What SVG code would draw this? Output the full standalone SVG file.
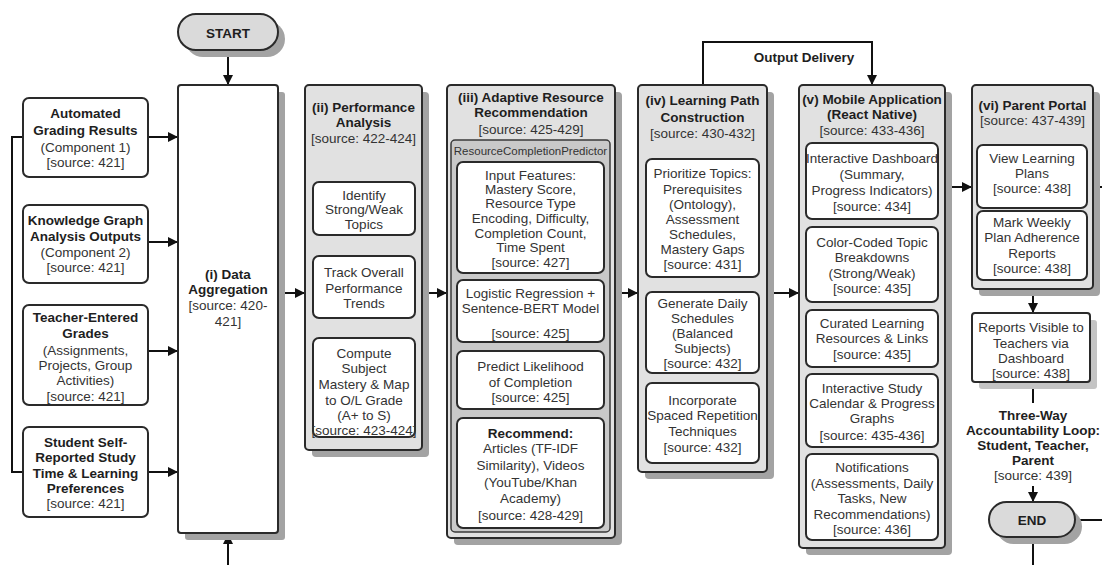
<svg xmlns="http://www.w3.org/2000/svg" width="1102" height="565" viewBox="0 0 1102 565">
<defs>
<marker id="ah" viewBox="0 0 10 10" refX="10" refY="5" markerWidth="10" markerHeight="10" markerUnits="userSpaceOnUse" orient="auto">
<path d="M0,0 L10,5 L0,10 z" fill="#111"/>
</marker>
<style>
.bg{fill:#ffffff}
.box{fill:#ffffff;stroke:#2a2a2a;stroke-width:2}
.cont{fill:#e1e1e1;stroke:#2a2a2a;stroke-width:2}
.pred{fill:#c9c9c9;stroke:#3a3a3a;stroke-width:1.5}
.sh{fill:#a3a3a3}
.shl{fill:#c4c4c4}
.term{fill:#dadada;stroke:#2a2a2a;stroke-width:2}
text{font-family:"Liberation Sans",Arial,sans-serif;text-anchor:middle}
.b{font-size:13.5px;font-weight:bold;fill:#1e1e1e}
.t{font-size:13.5px;fill:#333}
.p{font-size:11.5px;fill:#333}
.c{fill:none;stroke:#111;stroke-width:2}
.ca{fill:none;stroke:#111;stroke-width:2;marker-end:url(#ah)}
</style>
</defs>
<rect class="bg" x="0" y="0" width="1102" height="565"/>

<g id="connectors">
<path class="c" d="M23,137 H12 V472 H23"/>
<path class="ca" d="M148,137 H178"/>
<path class="ca" d="M148,242 H178"/>
<path class="ca" d="M148,351 H178"/>
<path class="ca" d="M148,472 H178"/>
<path class="ca" d="M228,50 V85"/>
<path class="ca" d="M228,565 V534"/>
<path class="ca" d="M278,293 H305"/>
<path class="ca" d="M422,293 H447"/>
<path class="ca" d="M615,293 H638"/>
<path class="ca" d="M767,293 H799"/>
<path class="ca" d="M703,85 V42 H872 V85"/>
<text class="b" x="804" y="62">Output Delivery</text>
<path class="ca" d="M945,187 H972"/>
<path class="c" d="M1093,187 H1102"/>
<path class="ca" d="M1033,289 V313"/>
<path class="c" d="M1033,382 V403"/>
<path class="ca" d="M1033,486 V502"/>
<path class="c" d="M1075,520 H1102"/>
<path class="c" d="M1033,537 V565"/>
</g>

<g id="start">
<rect class="sh" x="185" y="21" width="100" height="36" rx="18"/>
<rect class="term" x="178" y="14" width="100" height="36" rx="18"/>
<text class="b" x="228" y="38">START</text>
</g>

<g id="in1">
<rect class="box" x="23" y="98" width="125" height="79" rx="6"/>
<text class="b" x="85.5" y="118">Automated</text>
<text class="b" x="85.5" y="135">Grading Results</text>
<text class="t" x="85.5" y="152">(Component 1)</text>
<text class="t" x="85.5" y="167">[source: 421]</text>
</g>
<g id="in2">
<rect class="box" x="23" y="205" width="125" height="78" rx="6"/>
<text class="b" x="85.5" y="225">Knowledge Graph</text>
<text class="b" x="85.5" y="241">Analysis Outputs</text>
<text class="t" x="85.5" y="257">(Component 2)</text>
<text class="t" x="85.5" y="272">[source: 421]</text>
</g>
<g id="in3">
<rect class="box" x="23" y="305" width="125" height="100" rx="6"/>
<text class="b" x="85.5" y="322">Teacher-Entered</text>
<text class="b" x="85.5" y="338">Grades</text>
<text class="t" x="85.5" y="355">(Assignments,</text>
<text class="t" x="85.5" y="370">Projects, Group</text>
<text class="t" x="85.5" y="385">Activities)</text>
<text class="t" x="85.5" y="401">[source: 421]</text>
</g>
<g id="in4">
<rect class="box" x="23" y="427" width="125" height="90" rx="6"/>
<text class="b" x="85.5" y="447">Student Self-</text>
<text class="b" x="85.5" y="462">Reported Study</text>
<text class="b" x="85.5" y="478">Time &amp; Learning</text>
<text class="b" x="85.5" y="493">Preferences</text>
<text class="t" x="85.5" y="508">[source: 421]</text>
</g>

<g id="aggregation">
<rect class="sh" x="185" y="92" width="100" height="448" rx="3"/>
<rect class="box" x="178" y="85" width="100" height="448" rx="3"/>
<text class="b" x="228" y="279">(i) Data</text>
<text class="b" x="228" y="294">Aggregation</text>
<text class="t" x="228" y="310">[source: 420-</text>
<text class="t" x="228" y="326">421]</text>
</g>

<g id="performance">
<rect class="sh" x="312" y="92" width="117" height="365" rx="4"/>
<rect class="cont" x="305" y="85" width="117" height="365" rx="4"/>
<text class="b" x="363.5" y="112">(ii) Performance</text>
<text class="b" x="363.5" y="127">Analysis</text>
<text class="t" x="363.5" y="143">[source: 422-424]</text>
<g id="perf1">
<rect class="box" x="313" y="182" width="102" height="53" rx="6"/>
<text class="t" x="364" y="200">Identify</text>
<text class="t" x="364" y="214">Strong/Weak</text>
<text class="t" x="364" y="229">Topics</text>
</g>
<g id="perf2">
<rect class="box" x="313" y="256" width="102" height="62" rx="6"/>
<text class="t" x="364" y="277">Track Overall</text>
<text class="t" x="364" y="293">Performance</text>
<text class="t" x="364" y="308">Trends</text>
</g>
<g id="perf3">
<rect class="box" x="313" y="338" width="102" height="99" rx="6"/>
<text class="t" x="364" y="358">Compute</text>
<text class="t" x="364" y="373">Subject</text>
<text class="t" x="364" y="389">Mastery &amp; Map</text>
<text class="t" x="364" y="405">to O/L Grade</text>
<text class="t" x="364" y="420">(A+ to S)</text>
<text class="t" x="364" y="435">[source: 423-424]</text>
</g>
</g>

<g id="adaptive">
<rect class="sh" x="454" y="92" width="168" height="453" rx="4"/>
<rect class="cont" x="447" y="85" width="168" height="453" rx="4"/>
<text class="b" x="531" y="102">(iii) Adaptive Resource</text>
<text class="b" x="531" y="117">Recommendation</text>
<text class="t" x="531" y="134">[source: 425-429]</text>
<g id="predictor">
<rect class="pred" x="451" y="140" width="159" height="392" rx="4"/>
<text class="p" x="530.5" y="155">ResourceCompletionPredictor</text>
</g>
<g id="ad1">
<rect class="box" x="457" y="162" width="147" height="111" rx="6"/>
<text class="t" x="530.5" y="180">Input Features:</text>
<text class="t" x="530.5" y="194">Mastery Score,</text>
<text class="t" x="530.5" y="208">Resource Type</text>
<text class="t" x="530.5" y="223">Encoding, Difficulty,</text>
<text class="t" x="530.5" y="238">Completion Count,</text>
<text class="t" x="530.5" y="252">Time Spent</text>
<text class="t" x="530.5" y="267">[source: 427]</text>
</g>
<g id="ad2">
<rect class="box" x="457" y="280" width="147" height="62" rx="6"/>
<text class="t" x="530.5" y="298">Logistic Regression +</text>
<text class="t" x="530.5" y="313">Sentence-BERT Model</text>
<text class="t" x="530.5" y="338">[source: 425]</text>
</g>
<g id="ad3">
<rect class="box" x="457" y="351" width="147" height="58" rx="6"/>
<text class="t" x="530.5" y="371">Predict Likelihood</text>
<text class="t" x="530.5" y="387">of Completion</text>
<text class="t" x="530.5" y="402">[source: 425]</text>
</g>
<g id="ad4">
<rect class="box" x="457" y="418" width="147" height="110" rx="6"/>
<text class="b" x="530.5" y="438">Recommend:</text>
<text class="t" x="530.5" y="453">Articles (TF-IDF</text>
<text class="t" x="530.5" y="470">Similarity), Videos</text>
<text class="t" x="530.5" y="487">(YouTube/Khan</text>
<text class="t" x="530.5" y="503">Academy)</text>
<text class="t" x="530.5" y="520">[source: 428-429]</text>
</g>
</g>

<g id="learning">
<rect class="sh" x="645" y="92" width="129" height="387" rx="4"/>
<rect class="cont" x="638" y="85" width="129" height="387" rx="4"/>
<text class="b" x="702.5" y="105">(iv) Learning Path</text>
<text class="b" x="702.5" y="122">Construction</text>
<text class="t" x="702.5" y="138">[source: 430-432]</text>
<g id="lp1">
<rect class="box" x="646" y="159" width="113" height="118" rx="6"/>
<text class="t" x="702.5" y="178">Prioritize Topics:</text>
<text class="t" x="702.5" y="194">Prerequisites</text>
<text class="t" x="702.5" y="209">(Ontology),</text>
<text class="t" x="702.5" y="224">Assessment</text>
<text class="t" x="702.5" y="239">Schedules,</text>
<text class="t" x="702.5" y="254">Mastery Gaps</text>
<text class="t" x="702.5" y="269">[source: 431]</text>
</g>
<g id="lp2">
<rect class="box" x="646" y="292" width="113" height="81" rx="6"/>
<text class="t" x="702.5" y="308">Generate Daily</text>
<text class="t" x="702.5" y="323">Schedules</text>
<text class="t" x="702.5" y="338">(Balanced</text>
<text class="t" x="702.5" y="353">Subjects)</text>
<text class="t" x="702.5" y="368">[source: 432]</text>
</g>
<g id="lp3">
<rect class="box" x="646" y="383" width="113" height="80" rx="6"/>
<text class="t" x="702.5" y="405">Incorporate</text>
<text class="t" x="702.5" y="420">Spaced Repetition</text>
<text class="t" x="702.5" y="436">Techniques</text>
<text class="t" x="702.5" y="452">[source: 432]</text>
</g>
</g>

<g id="mobile">
<rect class="sh" x="806" y="92" width="146" height="463" rx="4"/>
<rect class="cont" x="799" y="85" width="146" height="463" rx="4"/>
<text class="b" x="872" y="104">(v) Mobile Application</text>
<text class="b" x="872" y="119">(React Native)</text>
<text class="t" x="872" y="135">[source: 433-436]</text>
<g id="m1">
<rect class="box" x="806" y="143" width="132" height="76" rx="6"/>
<text class="t" x="872" y="163">Interactive Dashboard</text>
<text class="t" x="872" y="179">(Summary,</text>
<text class="t" x="872" y="195">Progress Indicators)</text>
<text class="t" x="872" y="211">[source: 434]</text>
</g>
<g id="m2">
<rect class="box" x="806" y="227" width="132" height="75" rx="6"/>
<text class="t" x="872" y="247">Color-Coded Topic</text>
<text class="t" x="872" y="262">Breakdowns</text>
<text class="t" x="872" y="278">(Strong/Weak)</text>
<text class="t" x="872" y="293">[source: 435]</text>
</g>
<g id="m3">
<rect class="box" x="806" y="310" width="132" height="57" rx="6"/>
<text class="t" x="872" y="328">Curated Learning</text>
<text class="t" x="872" y="343">Resources &amp; Links</text>
<text class="t" x="872" y="359">[source: 435]</text>
</g>
<g id="m4">
<rect class="box" x="806" y="374" width="132" height="73" rx="6"/>
<text class="t" x="872" y="393">Interactive Study</text>
<text class="t" x="872" y="408">Calendar &amp; Progress</text>
<text class="t" x="872" y="423">Graphs</text>
<text class="t" x="872" y="440">[source: 435-436]</text>
</g>
<g id="m5">
<rect class="box" x="806" y="454" width="132" height="86" rx="6"/>
<text class="t" x="872" y="472">Notifications</text>
<text class="t" x="872" y="488">(Assessments, Daily</text>
<text class="t" x="872" y="503">Tasks, New</text>
<text class="t" x="872" y="519">Recommendations)</text>
<text class="t" x="872" y="534">[source: 436]</text>
</g>
</g>

<g id="parent">
<rect class="sh" x="979" y="92" width="121" height="204" rx="4"/>
<rect class="cont" x="972" y="85" width="121" height="204" rx="4"/>
<text class="b" x="1032.5" y="110">(vi) Parent Portal</text>
<text class="t" x="1032.5" y="125">[source: 437-439]</text>
<g id="pp1">
<rect class="box" x="977" y="145" width="110" height="63" rx="6"/>
<text class="t" x="1032" y="163">View Learning</text>
<text class="t" x="1032" y="178">Plans</text>
<text class="t" x="1032" y="193">[source: 438]</text>
</g>
<g id="pp2">
<rect class="box" x="977" y="211" width="110" height="69" rx="6"/>
<text class="t" x="1032" y="227">Mark Weekly</text>
<text class="t" x="1032" y="242">Plan Adherence</text>
<text class="t" x="1032" y="258">Reports</text>
<text class="t" x="1032" y="273">[source: 438]</text>
</g>
</g>

<g id="reports">
<rect class="shl" x="979" y="320" width="118" height="69" rx="3"/>
<rect class="box" x="972" y="313" width="118" height="69" rx="3"/>
<text class="t" x="1031" y="332">Reports Visible to</text>
<text class="t" x="1031" y="348">Teachers via</text>
<text class="t" x="1031" y="363">Dashboard</text>
<text class="t" x="1031" y="378">[source: 438]</text>
</g>

<g id="loop">
<text class="b" x="1033" y="420">Three-Way</text>
<text class="b" x="1033" y="435">Accountability Loop:</text>
<text class="b" x="1033" y="450">Student, Teacher,</text>
<text class="b" x="1033" y="465">Parent</text>
<text class="t" x="1033" y="480">[source: 439]</text>
</g>

<g id="end">
<rect class="sh" x="996" y="509" width="86" height="35" rx="17.5"/>
<rect class="term" x="989" y="502" width="86" height="35" rx="17.5"/>
<text class="b" x="1032" y="525">END</text>
</g>
</svg>
